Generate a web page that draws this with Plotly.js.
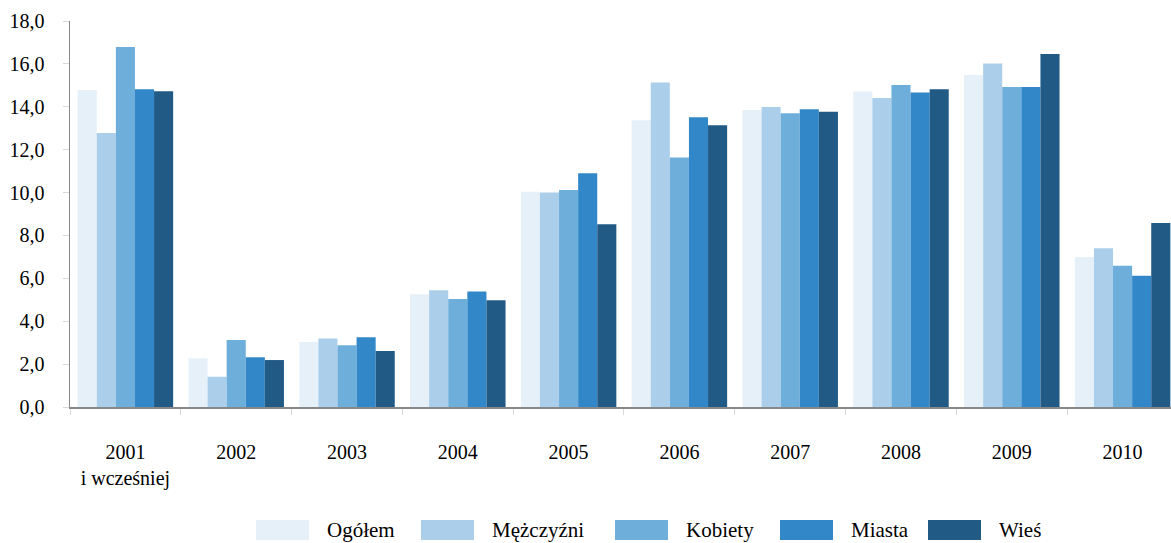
<!DOCTYPE html>
<html>
<head>
<meta charset="utf-8">
<script src="https://cdn.plot.ly/plotly-3.0.1.min.js"></script>
<style>
  html, body { margin: 0; padding: 0; background: #fff; }
  #chart { width: 1171px; height: 543px; }
</style>
</head>
<body>
<div id="chart"></div>
<script>
const categories = ['2001<br>i wcześniej', '2002', '2003', '2004', '2005', '2006', '2007', '2008', '2009', '2010'];
const seriesNames = ['Ogółem', 'Mężczyźni', 'Kobiety', 'Miasta', 'Wieś'];
const ogolem    = [14.78, 2.27, 3.03, 5.26, 10.04, 13.37, 13.85, 14.71, 15.48, 7.00];
const mezczyzni = [12.78, 1.41, 3.20, 5.44, 10.00, 15.13, 13.99, 14.41, 16.02, 7.40];
const kobiety   = [16.79, 3.12, 2.88, 5.04, 10.12, 11.63, 13.70, 15.02, 14.92, 6.59];
const miasta    = [14.82, 2.32, 3.25, 5.39, 10.90, 13.51, 13.88, 14.66, 14.92, 6.12];
const wies      = [14.72, 2.19, 2.61, 4.98, 8.52, 13.14, 13.77, 14.82, 16.46, 8.58];
const colors = ['#e6f0f9', '#abcfea', '#6eaedb', '#3187c7', '#225a86'];

const seriesValues = [ogolem, mezczyzni, kobiety, miasta, wies];

// plot-area geometry (pixels) used for placing the custom legend
const W = 1171, H = 543;
const M = { l: 70, r: 0, t: 21, b: 136 };
const plotW = W - M.l - M.r, plotH = H - M.t - M.b;
const px2x = px => (px - M.l) / plotW;
const py2y = py => (H - M.b - py) / plotH;

// legend layout (pixel positions of swatches)
const legendSwatchLeft = [256, 421, 615, 780, 928];
const legendSwatchW = 53, legendTop = 520, legendBottom = 540, legendTextOffset = 70;

const data = seriesValues.map((vals, i) => ({
  type: 'bar',
  name: seriesNames[i],
  x: categories,
  y: vals,
  marker: { color: colors[i], line: { width: 0 } },
  hoverinfo: 'skip',
  showlegend: false
}));

const shapes = seriesNames.map((n, i) => ({
  type: 'rect', xref: 'paper', yref: 'paper',
  x0: px2x(legendSwatchLeft[i]), x1: px2x(legendSwatchLeft[i] + legendSwatchW),
  y0: py2y(legendBottom), y1: py2y(legendTop),
  fillcolor: colors[i], line: { width: 0 }
}));

const annotations = seriesNames.map((n, i) => ({
  xref: 'paper', yref: 'paper',
  x: px2x(legendSwatchLeft[i] + legendTextOffset),
  y: py2y((legendTop + legendBottom) / 2),
  xanchor: 'left', yanchor: 'middle',
  text: n, showarrow: false, borderpad: 0,
  font: { family: 'Liberation Serif', size: 21, color: '#000' }
}));

const layout = {
  width: W,
  height: H,
  margin: { l: M.l, r: M.r, t: M.t, b: M.b, pad: 0 },
  paper_bgcolor: '#fff',
  plot_bgcolor: '#fff',
  font: { family: 'Liberation Serif', size: 20, color: '#000' },
  separators: ', ',
  barmode: 'group',
  bargap: 0.138,
  bargroupgap: 0,
  showlegend: false,
  shapes: shapes,
  annotations: annotations,
  xaxis: {
    type: 'category',
    range: [-0.5, 9.437],
    automargin: false,
    showline: true,
    linecolor: '#888',
    linewidth: 1.5,
    ticks: 'outside',
    tickson: 'boundaries',
    ticklen: 6,
    tickcolor: '#d9d9d9',
    ticklabelstandoff: 26,
    showgrid: false,
    zeroline: false
  },
  yaxis: {
    range: [0, 18],
    dtick: 2,
    tick0: 0,
    tickformat: '.1f',
    automargin: false,
    showline: true,
    linecolor: '#888',
    linewidth: 1.5,
    ticks: 'outside',
    ticklen: 6,
    tickcolor: '#d9d9d9',
    ticklabelstandoff: 14,
    showgrid: false,
    zeroline: false
  }
};

Plotly.newPlot('chart', data, layout, { staticPlot: true, displayModeBar: false });
</script>
</body>
</html>
